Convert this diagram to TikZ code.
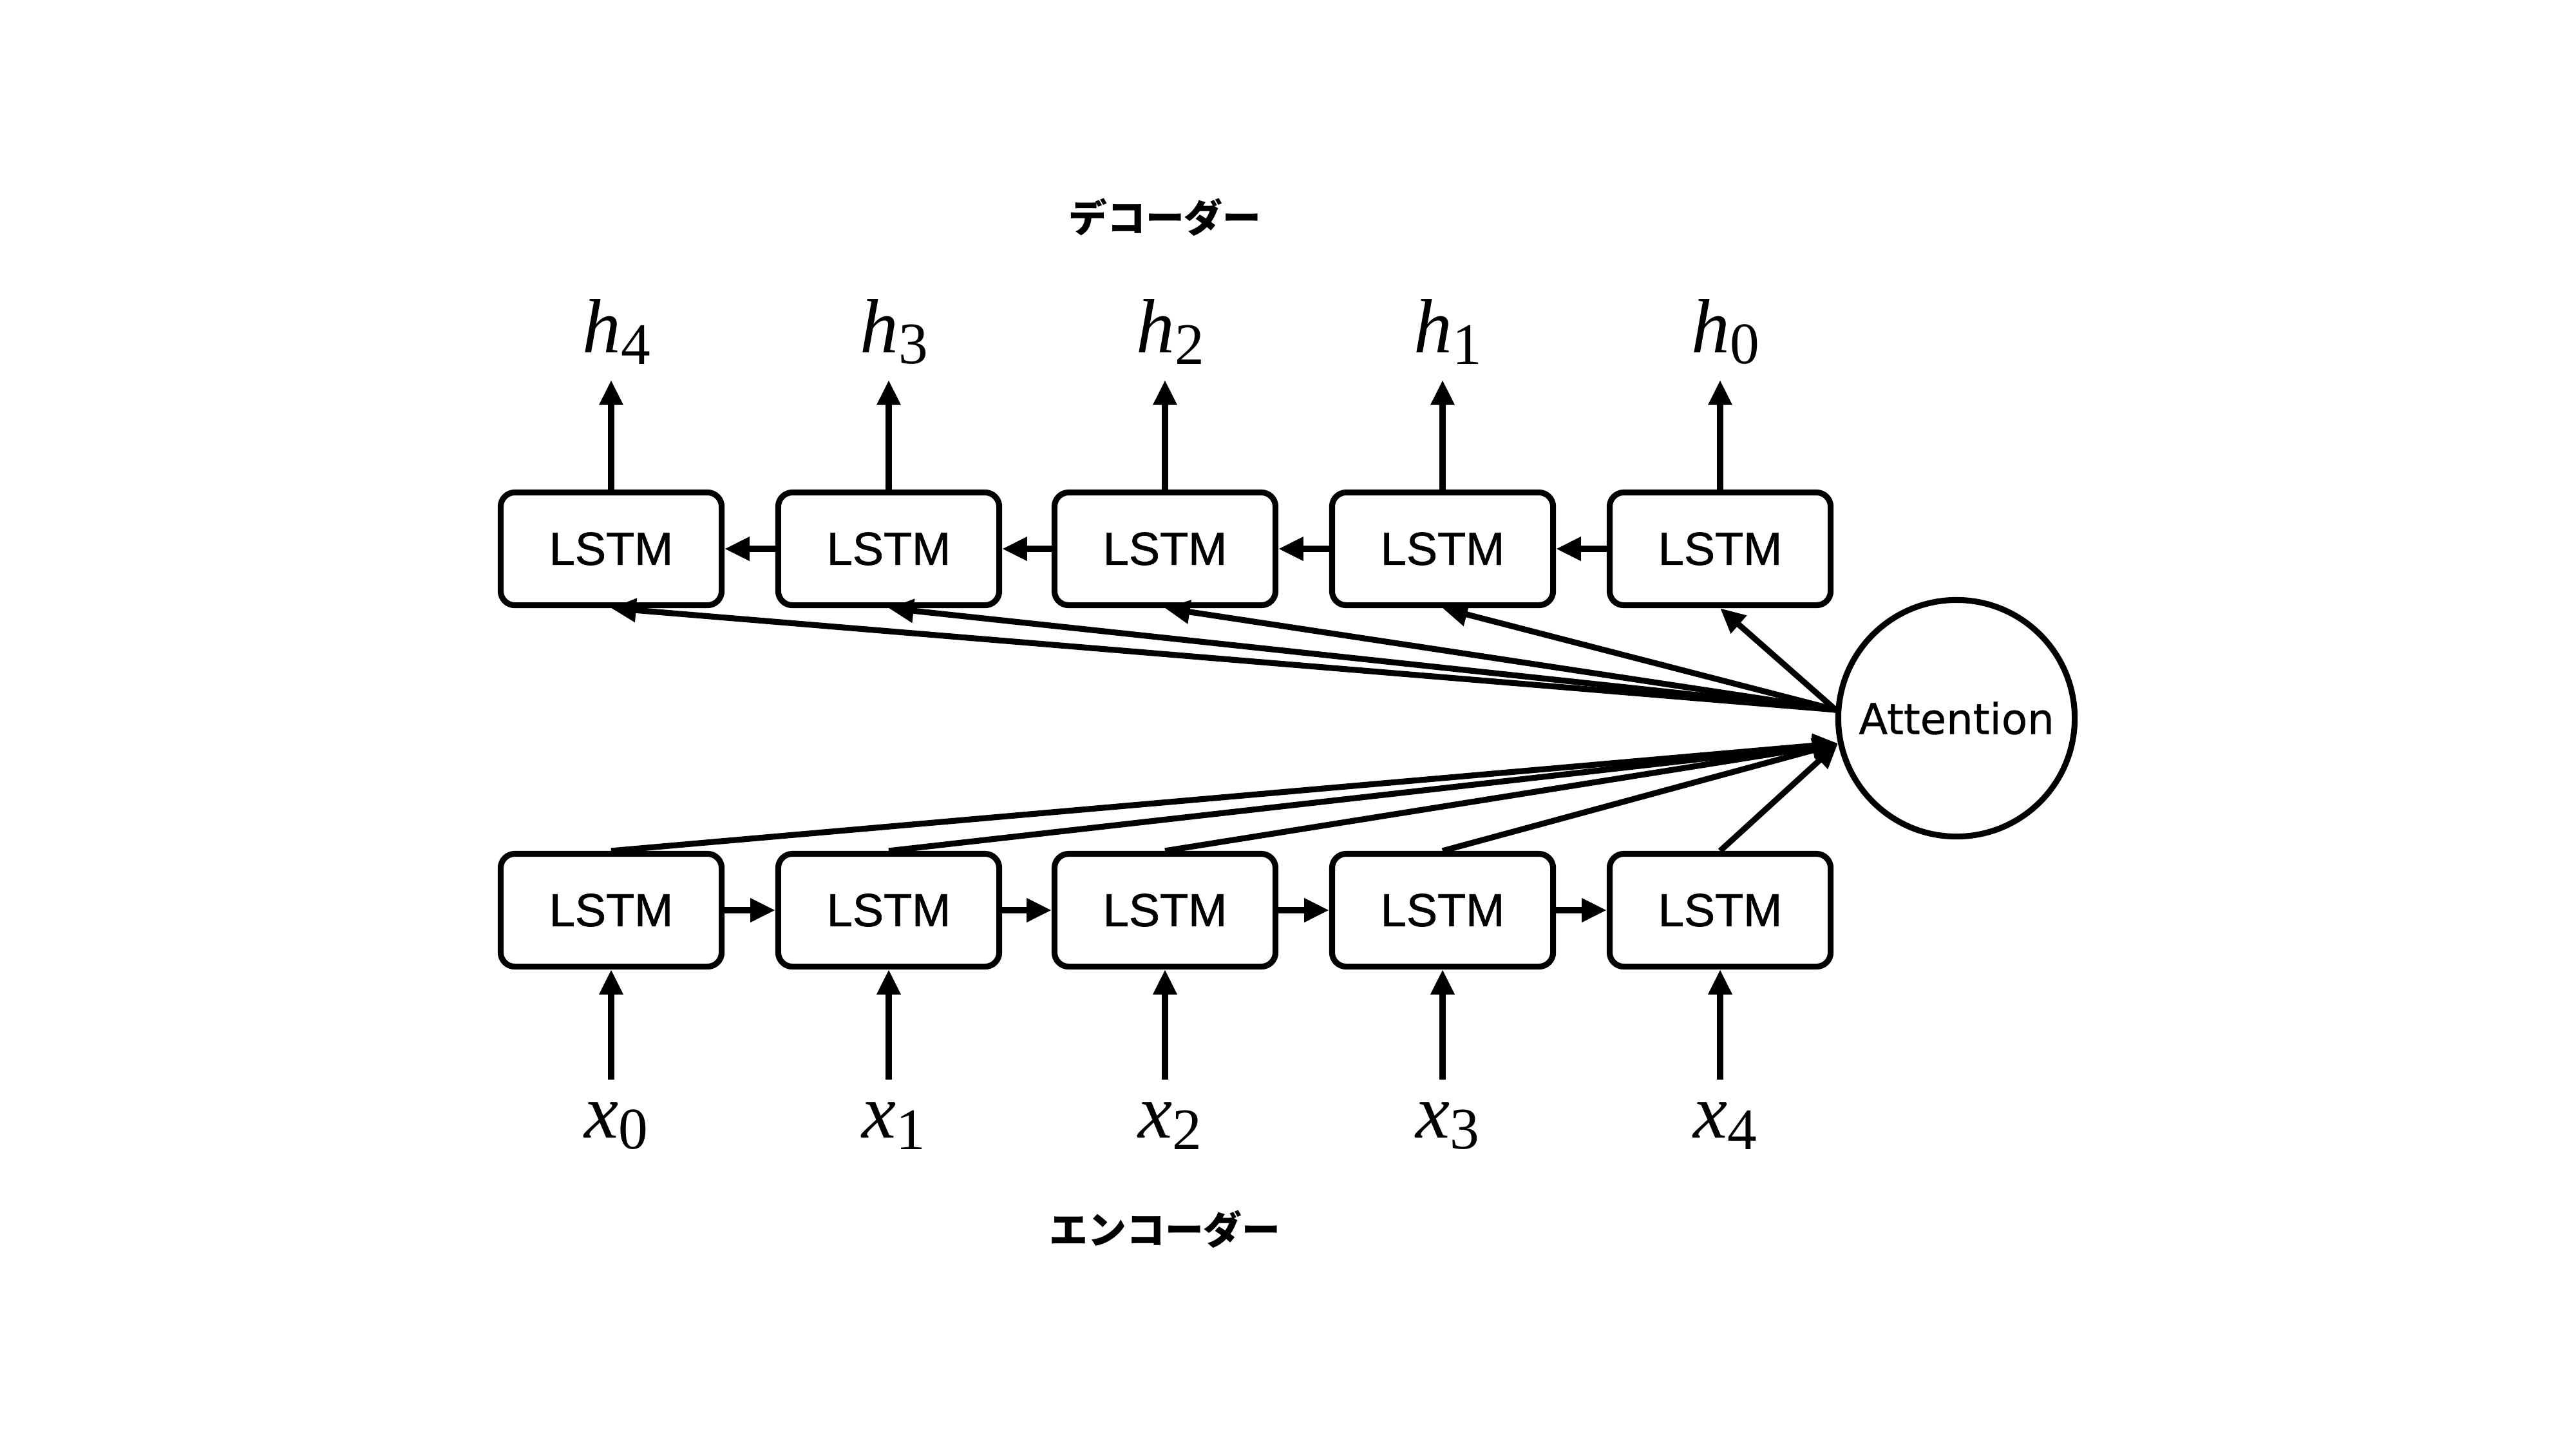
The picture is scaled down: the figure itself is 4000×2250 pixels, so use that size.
\documentclass[tikz,border=0pt]{standalone}
\usepackage{fontspec}
\setmainfont{Liberation Sans}
\newfontfamily\lstmfont[FakeBold=0.9]{Liberation Sans}
\newfontfamily\attfont[FakeBold=0.5]{DejaVu Sans}
\newfontfamily\cjk{Noto Sans CJK JP}
\newfontfamily\serifface{Liberation Serif}
\usetikzlibrary{arrows.meta}
\newcommand\vlab[2]{{\serifface\itshape\fontsize{34}{38}\selectfont #1}\raisebox{-5pt}{\serifface\fontsize{26}{30}\selectfont #2}}
\begin{document}
\begin{tikzpicture}[x=0.01cm,y=-0.01cm,
  lstm/.style={draw, line width=2.6pt, rounded corners=0.22cm, minimum width=3.43cm, minimum height=1.75cm, inner sep=0pt, font=\lstmfont\fontsize{20.5}{22}\selectfont},
  attn/.style={draw, circle, line width=2.6pt, minimum size=3.67cm, inner sep=0pt, font=\attfont\fontsize{18.7}{20}\selectfont},
  arr/.style={line width=2.6pt, -{Triangle[length=11pt,width=10pt]}},
  jlab/.style={font=\cjk\bfseries\fontsize{17}{20}\selectfont},
  vl/.style={inner sep=0pt}]
\fill[white] (0,0) rectangle (4000,2250);
% decoder row
\foreach \i/\x in {4/949,3/1380,2/1809,1/2240,0/2671}{
  \node[lstm] (d\i) at (\x,852) {LSTM};
  \node[vl] (h\i) at (\x+8,515) {\vlab{h}{\i}};
  \coordinate (ht\i) at (\x,590);
  \draw[arr] (d\i.north) -- (ht\i);
}
% encoder row
\foreach \i/\x in {0/949,1/1380,2/1809,3/2240,4/2671}{
  \node[lstm] (e\i) at (\x,1413) {LSTM};
  \node[vl] (x\i) at (\x+8,1748) {\vlab{x}{\i}};
  \coordinate (xb\i) at (\x,1676);
  \draw[arr] (xb\i) -- (e\i.south);
}
\node[attn] (att) at (3038,1115) {Attention};
\node[jlab] (dec) at (1809,337) {デコーダー};
\node[jlab] (enc) at (1809,1908) {エンコーダー};
% horizontal
\draw[arr] (d0.west) -- (d1.east);
\draw[arr] (d1.west) -- (d2.east);
\draw[arr] (d2.west) -- (d3.east);
\draw[arr] (d3.west) -- (d4.east);
\draw[arr] (e0.east) -- (e1.west);
\draw[arr] (e1.east) -- (e2.west);
\draw[arr] (e2.east) -- (e3.west);
\draw[arr] (e3.east) -- (e4.west);
% attention
\foreach \i in {0,1,2,3,4}{
  \draw[arr] (att.176) -- (d\i.south);
  \draw[arr] (e\i.north) -- (att.192);
}
\end{tikzpicture}
\end{document}
